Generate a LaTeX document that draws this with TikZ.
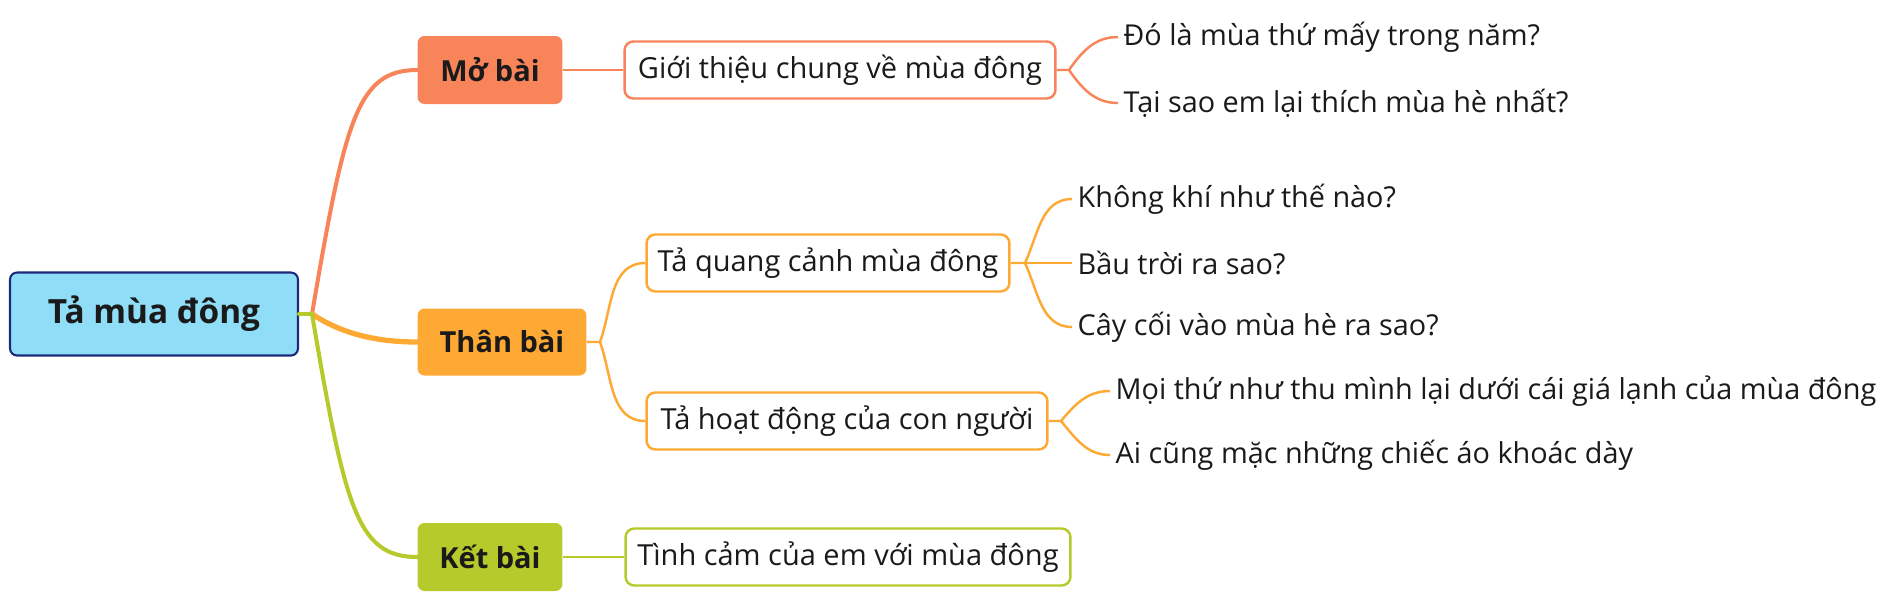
\documentclass[tikz,border=0pt]{standalone}
\usepackage{fontspec}
\setmainfont{Open Sans}
\usepackage{tikz}
\usetikzlibrary{positioning}
\definecolor{rootFill}{HTML}{8FDDF7}
\definecolor{rootLine}{HTML}{1C2A7C}
\definecolor{moColor}{HTML}{F8845A}
\definecolor{thanColor}{HTML}{FDA934}
\definecolor{ketColor}{HTML}{B6CA2B}
\definecolor{inkColor}{HTML}{1A1A1A}
\tikzstyle{rootNode} = [rectangle, rounded corners=4pt, draw=rootLine, line width=1.2pt, fill=rootFill, minimum width=5.76cm, minimum height=1.66cm, font=\fontsize{19}{22}\selectfont\bfseries, text=inkColor]
\tikzstyle{partNode} = [rectangle, rounded corners=4pt, minimum width=2.9cm, minimum height=1.36cm, font=\fontsize{16.5}{19}\selectfont\bfseries, text=inkColor]
\tikzstyle{ideaNode} = [rectangle, rounded corners=5pt, line width=1.4pt, fill=white, minimum height=1.14cm, font=\fontsize{16.5}{19}\selectfont, text=inkColor]
\tikzstyle{leafNode} = [inner xsep=3pt, inner ysep=0pt, anchor=west, font=\fontsize{16.4}{19}\selectfont, text=inkColor]
\tikzstyle{branch} = [line width=2.3pt, line cap=round]
\tikzstyle{twig} = [line width=1.4pt]

\begin{document}
\begin{tikzpicture}[x=0.02cm, y=0.02cm]
    \useasboundingbox (0,0) rectangle (1891,-610);
    % main topic and parts
    \node (root) [rootNode] at (154,-314) {Tả mùa đông};
    \node (mo) [partNode, fill=moColor] at (490,-70) {Mở bài};
    \node (than) [partNode, fill=thanColor, minimum width=3.38cm, minimum height=1.34cm] at (502,-342) {Thân bài};
    \node (ket) [partNode, fill=ketColor] at (490,-557) {Kết bài};
    % ideas
    \node (gioi) [ideaNode, draw=moColor, minimum width=8.62cm] at (840,-70) {Giới thiệu chung về mùa đông};
    \node (quang) [ideaNode, draw=thanColor, minimum width=7.26cm] at (828,-263) {Tả quang cảnh mùa đông};
    \node (hoat) [ideaNode, draw=thanColor, minimum width=8.02cm] at (847,-421) {Tả hoạt động của con người};
    \node (tinh) [ideaNode, draw=ketColor, minimum width=8.9cm] at (848,-557) {Tình cảm của em với mùa đông};
    % details
    \node (q1) [leafNode] at (1118,-37) {Đó là mùa thứ mấy trong năm?};
    \node (q2) [leafNode] at (1118,-103) {Tại sao em lại thích mùa hè nhất?};
    \node (c1) [leafNode] at (1072,-199) {Không khí như thế nào?};
    \node (c2) [leafNode] at (1072,-263) {Bầu trời ra sao?};
    \node (c3) [leafNode] at (1072,-327) {Cây cối vào mùa hè ra sao?};
    \node (h1) [leafNode] at (1110,-391) {Mọi thứ như thu mình lại dưới cái giá lạnh của mùa đông};
    \node (h2) [leafNode] at (1110,-455) {Ai cũng mặc những chiếc áo khoác dày};
    % junctions
    \coordinate (hub) at (312,-314);
    \coordinate (thanJ) at (600,-342);
    \coordinate (gioiJ) at (1069,-70);
    \coordinate (quangJ) at (1025,-263);
    \coordinate (hoatJ) at (1061,-421);
    % branches
    \draw [branch, moColor] (hub) .. controls +(33,194) and +(-60,0) .. (mo.west);
    \draw [branch, thanColor, line width=3pt] (hub) .. controls +(30,-20) and +(-40,0) .. (than.west);
    \draw [branch, ketColor] (hub) .. controls +(33,-194) and +(-60,0) .. (ket.west);
    \draw [branch, ketColor] (root.east) -- (hub);
    % twigs
    \draw [twig, moColor] (mo) -- (gioi);
    \draw [twig, ketColor] (ket) -- (tinh);
    \draw [twig, thanColor] (than.east) -- (thanJ) to [out=70, in=180] (quang.west);
    \draw [twig, thanColor] (thanJ) to [out=-70, in=180] (hoat.west);
    \draw [twig, moColor] (gioi.east) -- (gioiJ) to [out=55, in=180] (q1.west);
    \draw [twig, moColor] (gioiJ) to [out=-55, in=180] (q2.west);
    \draw [twig, thanColor] (quang.east) -- (quangJ) to [out=65, in=180] (c1.west);
    \draw [twig, thanColor] (quangJ) -- (c2.west);
    \draw [twig, thanColor] (quangJ) to [out=-65, in=180] (c3.west);
    \draw [twig, thanColor] (hoat.east) -- (hoatJ) to [out=50, in=180] (h1.west);
    \draw [twig, thanColor] (hoatJ) to [out=-50, in=180] (h2.west);
\end{tikzpicture}
\end{document}
